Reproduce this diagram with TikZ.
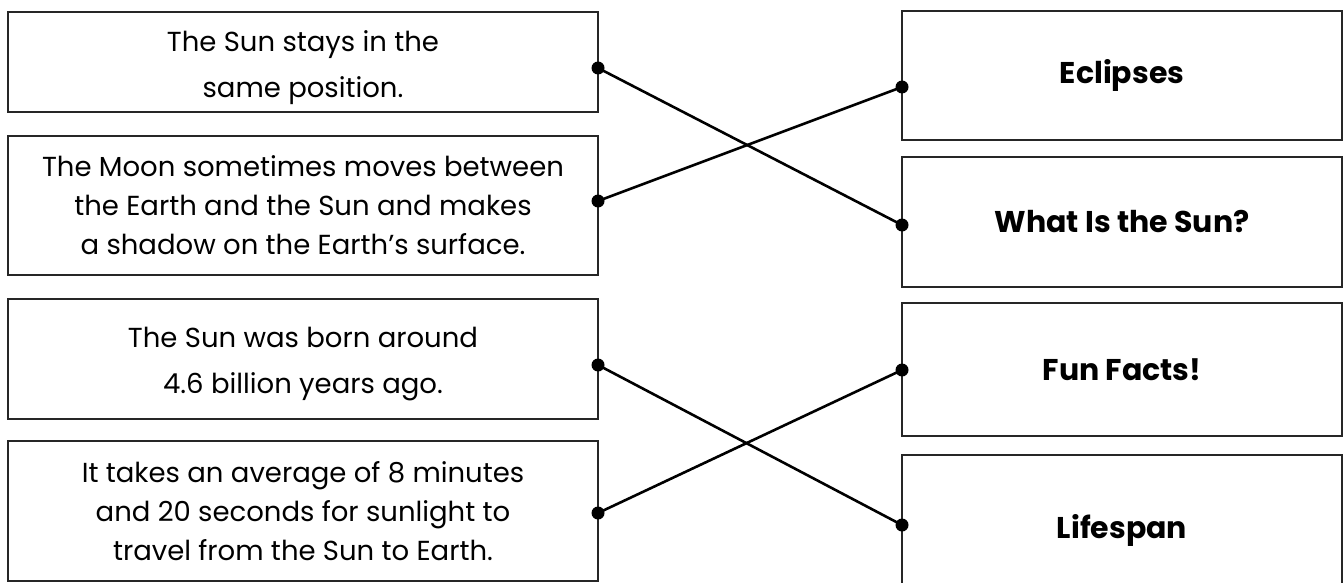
\documentclass[tikz,border=0pt]{standalone}
\usepackage{fontspec}
\setmainfont{Poppins}
\newfontfamily\boldf{Poppins}[UprightFont=* Bold]
\begin{document}
\begin{tikzpicture}[x=1pt,y=-1pt,
  box/.style={draw=black!85, line width=2.6pt, rectangle, inner sep=0pt, outer sep=0pt, fill=white},
  lbox/.style={box, minimum width=590pt, align=center, font=\fontsize{27.5}{39}\selectfont},
  rbox/.style={box, minimum width=440pt, font=\boldf\fontsize{30}{34}\selectfont},
  dot/.style={circle, fill=black, inner sep=0pt, minimum size=13pt},
  link/.style={line width=2.6pt, black}]
\useasboundingbox (0,0) rectangle (1343,583);
\clip (0,0) rectangle (1343,583);
\fill[white] (0,0) rectangle (1343,583);
% left boxes
\node[lbox, minimum height=100pt] (l1) at (303,62) {\rule{0pt}{32pt}The Sun stays in the\\[7pt]same position.};
\node[lbox, minimum height=139pt] (l2) at (303,205.5) {The Moon sometimes moves between\\the Earth and the Sun and makes\\a shadow on the Earth{\char"27}s surface.};
\node[lbox, minimum height=120pt] (l3) at (303,359) {\rule{0pt}{30pt}The Sun was born around\\[7pt]4.6 billion years ago.};
\node[lbox, minimum height=140pt] (l4) at (303,511) {It takes an average of 8 minutes\\and 20 seconds for sunlight to\\travel from the Sun to Earth.};
% right boxes
\node[rbox, minimum height=129pt] (r1) at (1122,75.5) {Eclipses};
\node[rbox, minimum height=130pt] (r2) at (1122,222) {What Is the Sun?};
\node[rbox, minimum height=133pt] (r3) at (1122,369.5) {Fun Facts!};
\node[rbox, minimum height=150pt] (r4) at (1122,530) {Lifespan};
% anchor points
\coordinate (p1) at ([yshift=-6pt]l1.east);
\coordinate (p2) at ([yshift=4.5pt]l2.east);
\coordinate (p3) at ([yshift=-6pt]l3.east);
\coordinate (p4) at ([yshift=-2pt]l4.east);
\coordinate (q1) at ([yshift=-11.5pt]r1.west);
\coordinate (q2) at ([yshift=-3pt]r2.west);
\coordinate (q3) at ([yshift=-0.5pt]r3.west);
\coordinate (q4) at ([yshift=5pt]r4.west);
% connectors
\draw[link] (p1) -- (q2);
\draw[link] (p2) -- (q1);
\draw[link] (p3) -- (q4);
\draw[link] (p4) -- (q3);
\foreach \c in {p1,p2,p3,p4,q1,q2,q3,q4} \node[dot] at (\c) {};
\end{tikzpicture}
\end{document}
